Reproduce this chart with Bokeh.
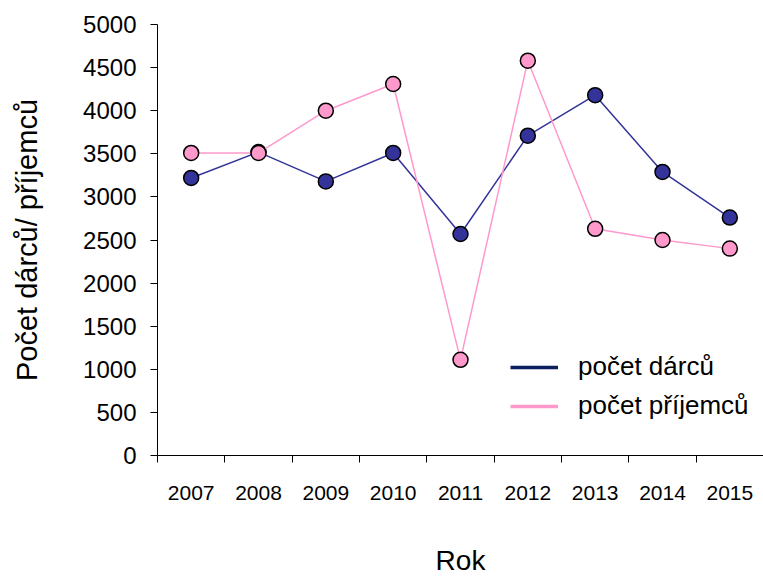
from bokeh.plotting import figure
from bokeh.models import (FactorRange, Range1d, LinearAxis, CategoricalAxis,
                          FixedTicker, Legend, LegendItem, ColumnDataSource)
from bokeh.embed import file_html
from bokeh.resources import INLINE

years = ["2007", "2008", "2009", "2010", "2011", "2012", "2013", "2014", "2015"]
darcu = [3220, 3520, 3180, 3510, 2570, 3710, 4180, 3290, 2760]
prijemcu = [3510, 3510, 4000, 4310, 1110, 4580, 2630, 2500, 2400]
y_ticks = [0, 500, 1000, 1500, 2000, 2500, 3000, 3500, 4000, 4500, 5000]
edge_ticks = [0, 1, 2, 3, 4, 5, 6, 7, 8, 9]

FONT = "Liberation Sans"
BLUE = "#333399"
PINK = "#FF99CC"

src = ColumnDataSource(data=dict(year=years, darcu=darcu, prijemcu=prijemcu))

p = figure(width=763, height=578, output_backend="svg", toolbar_location=None,
           x_range=FactorRange(factors=years, range_padding=0),
           y_range=Range1d(0, 5000),
           x_axis_location=None, y_axis_location=None,
           min_border_left=157, min_border_right=0, min_border_top=24,
           min_border_bottom=122)
p.outline_line_color = None
p.xgrid.visible = False
p.ygrid.visible = False
p.background_fill_color = "white"
p.border_fill_color = "white"

# y axis
yax = LinearAxis(ticker=FixedTicker(ticks=y_ticks), axis_label="Počet dárců/ příjemců")
yax.major_tick_out = 7
yax.major_tick_in = 0
yax.minor_tick_out = 0
yax.minor_tick_in = 0
yax.major_label_text_font = FONT
yax.major_label_text_font_size = "24px"
yax.major_label_text_color = "black"
yax.major_label_standoff = 14
yax.axis_label_text_font = FONT
yax.axis_label_text_font_size = "29px"
yax.axis_label_text_font_style = "normal"
yax.axis_label_text_color = "black"
yax.axis_label_standoff = 37
yax.axis_line_color = "black"
yax.major_tick_line_color = "black"
p.add_layout(yax, "left")

# x edge ticks axis (boundaries between the year categories)
eax = LinearAxis(ticker=FixedTicker(ticks=edge_ticks, minor_ticks=[]))
eax.major_tick_out = 7
eax.major_tick_in = 0
eax.minor_tick_out = 0
eax.minor_tick_in = 0
eax.major_label_text_font_size = "0px"
eax.major_label_text_alpha = 0
eax.major_label_standoff = 0
eax.axis_line_color = "black"
eax.major_tick_line_color = "black"
p.add_layout(eax, "below")

# category labels axis
cax = CategoricalAxis(axis_label="Rok")
cax.axis_line_color = None
cax.major_tick_line_color = None
cax.major_tick_out = 0
cax.major_tick_in = 0
cax.major_label_text_font = FONT
cax.major_label_text_font_size = "21px"
cax.major_label_text_color = "black"
cax.major_label_standoff = 23
cax.axis_label_text_font = FONT
cax.axis_label_text_font_size = "28px"
cax.axis_label_text_font_style = "normal"
cax.axis_label_text_color = "black"
cax.axis_label_standoff = 42
p.add_layout(cax, "below")

# series
p.line("year", "darcu", source=src, line_color=BLUE, line_width=1.5)
p.scatter("year", "darcu", source=src, size=15, fill_color=BLUE,
          line_color="black", line_width=1.5)
p.line("year", "prijemcu", source=src, line_color=PINK, line_width=1.5)
p.scatter("year", "prijemcu", source=src, size=15, fill_color=PINK,
          line_color="black", line_width=1.5)

# legend glyphs (thicker lines as in the reference); no visible data
nodata = ColumnDataSource(data=dict(year=[years[0]], v=[float("nan")]))
lg1 = p.line("year", "v", source=nodata, line_color="#0B1F5E", line_width=3.5)
lg2 = p.line("year", "v", source=nodata, line_color=PINK, line_width=3.5)

legend = Legend(items=[LegendItem(label="počet dárců", renderers=[lg1]),
                       LegendItem(label="počet příjemců", renderers=[lg2])],
                location=(353, 34))
legend.label_text_font = FONT
legend.label_text_font_size = "26px"
legend.label_text_color = "black"
legend.glyph_width = 48
legend.glyph_height = 30
legend.label_height = 30
legend.label_standoff = 20
legend.spacing = 8
legend.padding = 0
legend.margin = 0
legend.border_line_color = None
legend.background_fill_alpha = 0
p.add_layout(legend, "center")

open("out.html", "w").write(file_html(p, INLINE))
